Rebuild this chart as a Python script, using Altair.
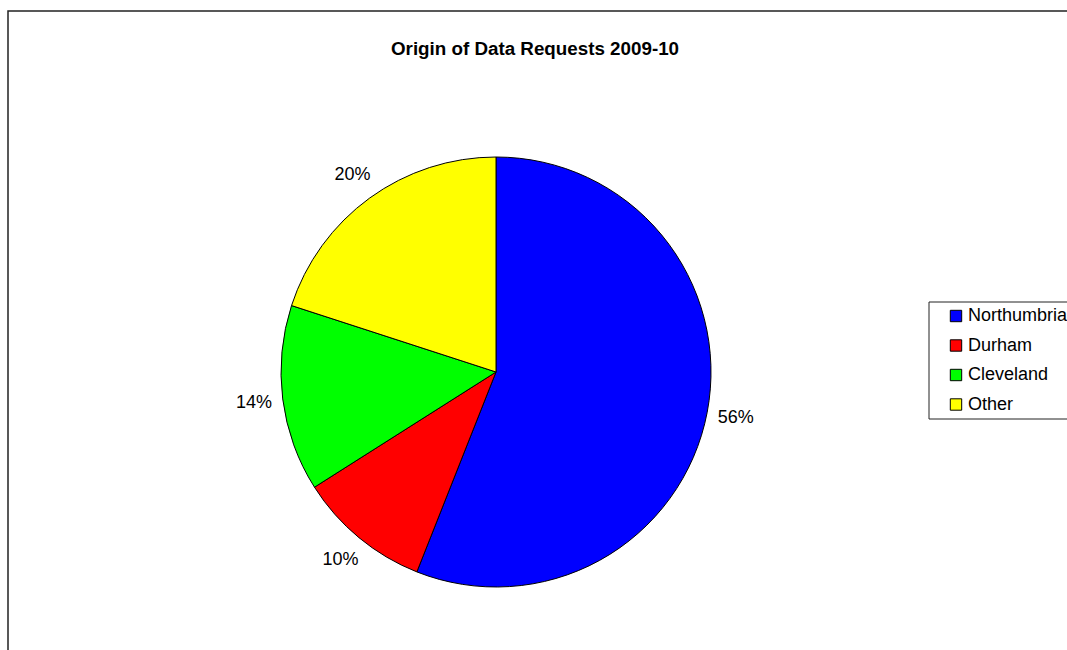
import altair as alt
import pandas as pd

# Share of data requests by origin, 2009-10
regions = ["Northumbria", "Durham", "Cleveland", "Other"]
shares = [56, 10, 14, 20]
labels = ["56%", "10%", "14%", "20%"]
colors = ["#0000FF", "#FF0000", "#00FF00", "#FFFF00"]

W, H = 1067, 650
CX, CY, R = 496, 372, 215
FONT = "Liberation Sans"

df = pd.DataFrame({
    "region": regions,
    "share": shares,
    "label": labels,
    "idx": list(range(len(regions))),
})

color = alt.Color(
    "region:N",
    scale=alt.Scale(domain=regions, range=colors),
    legend=alt.Legend(
        title=None,
        orient="none",
        legendX=947,
        legendY=307,
        padding=0,
        symbolType="square",
        symbolSize=130,
        symbolStrokeColor="black",
        symbolStrokeWidth=1,
        symbolOpacity=1,
        labelFont=FONT,
        labelFontSize=18,
        labelColor="black",
        labelOffset=3,
        rowPadding=11.5,
    ),
)

base = alt.Chart(df)

pie = base.mark_arc(outerRadius=R, stroke="black", strokeWidth=1).encode(
    theta=alt.Theta("share:Q", stack=True),
    color=color,
    order=alt.Order("idx:Q"),
    x=alt.value(CX),
    y=alt.value(CY),
)

pct = base.mark_text(radius=244, font=FONT, fontSize=18, color="black").encode(
    theta=alt.Theta("share:Q", stack=True),
    order=alt.Order("idx:Q"),
    text="label:N",
    x=alt.value(CX),
    y=alt.value(CY),
)

one = alt.Chart(pd.DataFrame({"t": ["Origin of Data Requests 2009-10"]}))

title = one.mark_text(
    font=FONT, fontSize=18.8, fontWeight="bold", color="black",
    align="center", baseline="alphabetic",
).encode(text="t:N", x=alt.value(535), y=alt.value(55))

frame = one.mark_rect(fill=None, stroke="#222222", strokeWidth=1.5).encode(
    x=alt.value(8), y=alt.value(11), x2=alt.value(1090), y2=alt.value(700)
)

legend_box = one.mark_rect(fill=None, stroke="#222222", strokeWidth=1).encode(
    x=alt.value(929), y=alt.value(302), x2=alt.value(1090), y2=alt.value(419)
)

chart = alt.layer(frame, legend_box, pie, pct, title).properties(
    width=W,
    height=H,
    padding=0,
    autosize=alt.AutoSizeParams(type="none"),
    background="white",
).configure_view(stroke=None)

chart.save("out.html", embed_options={"renderer": "svg", "actions": False})
